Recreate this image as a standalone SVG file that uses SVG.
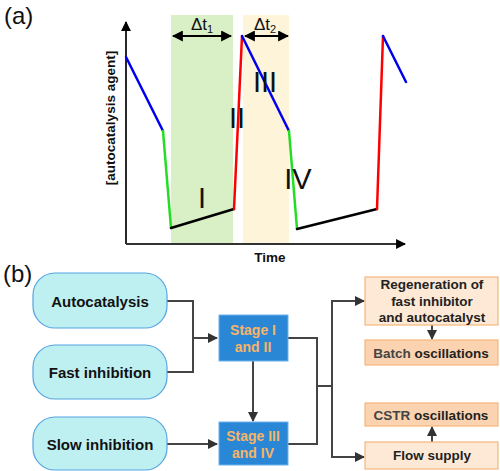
<svg xmlns="http://www.w3.org/2000/svg" width="500" height="471" viewBox="0 0 500 471">
<style>
text{font-family:"Liberation Sans",Arial,sans-serif}
.lab{font-size:24px;fill:#111}
.rom{font-size:29px;fill:#111;text-anchor:middle}
.ax{font-size:13.5px;font-weight:bold;fill:#111}
.cv{fill:none;stroke-width:2.5;stroke-linecap:round}
.pill{fill:#bff0f1;stroke:#55a3e2;stroke-width:1.2}
.pt{font-size:15px;font-weight:bold;fill:#111;text-anchor:middle}
.stage{fill:#2a87d6;stroke:#6db2ec;stroke-width:1}
.st{font-size:14px;font-weight:bold;fill:#f6b468;text-anchor:middle}
.light{fill:#fde9d5;stroke:#f5b77c;stroke-width:1.2}
.dark{fill:#fbd3b0;stroke:#f5b77c;stroke-width:1.2}
.bt{font-size:13.5px;font-weight:bold;fill:#222;text-anchor:middle}
.conn{fill:none;stroke:#444;stroke-width:2}
</style>
<defs>
<marker id="ah" viewBox="0 0 10 10" refX="9" refY="5" markerWidth="5" markerHeight="5" orient="auto-start-reverse"><path d="M0,0L10,5L0,10z" fill="#333"/></marker>
<marker id="bh" viewBox="0 0 10 10" refX="9" refY="5" markerWidth="5.5" markerHeight="5.5" orient="auto-start-reverse"><path d="M0,0L10,5L0,10z" fill="#000"/></marker>
</defs>

<g id="panel-a">
<text class="lab" x="4" y="24">(a)</text>
<rect x="171" y="15" width="62" height="229" fill="#d9efc6"/>
<rect x="243" y="15" width="46" height="229" fill="#fdf4da"/>
<line x1="126" y1="244" x2="126" y2="22" stroke="#111" stroke-width="1.8" marker-end="url(#bh)"/>
<line x1="126" y1="244" x2="405" y2="244" stroke="#333" stroke-width="1.8" marker-end="url(#bh)"/>
<line x1="173" y1="36" x2="231" y2="36" stroke="#000" stroke-width="2" marker-start="url(#bh)" marker-end="url(#bh)"/>
<line x1="245" y1="36" x2="288" y2="36" stroke="#000" stroke-width="2" marker-start="url(#bh)" marker-end="url(#bh)"/>
<text x="202" y="30" font-size="17" fill="#111" text-anchor="middle">Δt<tspan font-size="11" dy="3">1</tspan></text>
<text x="265" y="30" font-size="17" fill="#111" text-anchor="middle">Δt<tspan font-size="11" dy="3">2</tspan></text>
<path class="cv" stroke="#0000ee" d="M126,57L163,131"/>
<path class="cv" stroke="#22dd22" d="M163,131L171,228"/>
<path class="cv" stroke="#000" d="M171,228L234,209"/>
<path class="cv" stroke="#ff0000" d="M234,209L242,36"/>
<path class="cv" stroke="#0000ee" d="M242,36L289,131"/>
<path class="cv" stroke="#22dd22" d="M289,131L297,229"/>
<path class="cv" stroke="#000" d="M297,229L377,209"/>
<path class="cv" stroke="#ff0000" d="M377,209L383,36"/>
<path class="cv" stroke="#0000ee" d="M383,36L406,82"/>
<text class="rom" x="202" y="208">I</text>
<text class="rom" x="237" y="128">II</text>
<text class="rom" x="265" y="92">III</text>
<text class="rom" x="298" y="189">IV</text>
<text class="ax" transform="translate(115,118) rotate(-90)" text-anchor="middle">[autocatalysis agent]</text>
<text class="ax" x="270" y="262" text-anchor="middle" font-size="13">Time</text>
</g>

<text class="lab" x="3" y="282">(b)</text>

<g id="connectors">
<path class="conn" d="M167,301H193V372H167"/>
<path class="conn" d="M193,338H217" marker-end="url(#ah)"/>
<path class="conn" d="M167,444H217" marker-end="url(#ah)"/>
<path class="conn" d="M253,361V421" marker-end="url(#ah)"/>
<path class="conn" d="M288,338H317V444H288"/>
<path class="conn" d="M317,386H332"/>
<path class="conn" d="M364,301H332V457H364" marker-start="url(#ah)" marker-end="url(#ah)"/>
<path class="conn" d="M432,325V339" marker-end="url(#ah)"/>
<path class="conn" d="M432,442V427" marker-end="url(#ah)"/>
</g>

<g id="autocatalysis"><rect class="pill" x="33" y="273" width="134" height="55" rx="22"/><text class="pt" x="100" y="307">Autocatalysis</text></g>
<g id="fast-inhibition"><rect class="pill" x="33" y="345" width="134" height="54" rx="22"/><text class="pt" x="100" y="378">Fast inhibition</text></g>
<g id="slow-inhibition"><rect class="pill" x="33" y="417" width="134" height="53" rx="22"/><text class="pt" x="100" y="450">Slow inhibition</text></g>

<g id="stage-1-2"><rect class="stage" x="219" y="315" width="69" height="46"/><text class="st" x="253" y="335">Stage I</text><text class="st" x="253" y="352">and II</text></g>
<g id="stage-3-4"><rect class="stage" x="219" y="422" width="69" height="43"/><text class="st" x="253" y="441">Stage III</text><text class="st" x="253" y="458">and IV</text></g>

<g id="regeneration"><rect class="light" x="365" y="277" width="133" height="48"/><text class="bt" x="432" y="289">Regeneration of</text><text class="bt" x="432" y="306">fast inhibitor</text><text class="bt" x="432" y="322">and autocatalyst</text></g>
<g id="batch"><rect class="dark" x="365" y="340" width="133" height="25"/><text class="bt" x="431" y="358"><tspan fill="#444">Batch</tspan> oscillations</text></g>
<g id="cstr"><rect class="dark" x="365" y="403" width="133" height="23"/><text class="bt" x="431" y="420"><tspan fill="#444">CSTR</tspan> oscillations</text></g>
<g id="flow-supply"><rect class="light" x="365" y="442" width="133" height="27"/><text class="bt" x="432" y="460" font-size="12.5">Flow supply</text></g>
</svg>
